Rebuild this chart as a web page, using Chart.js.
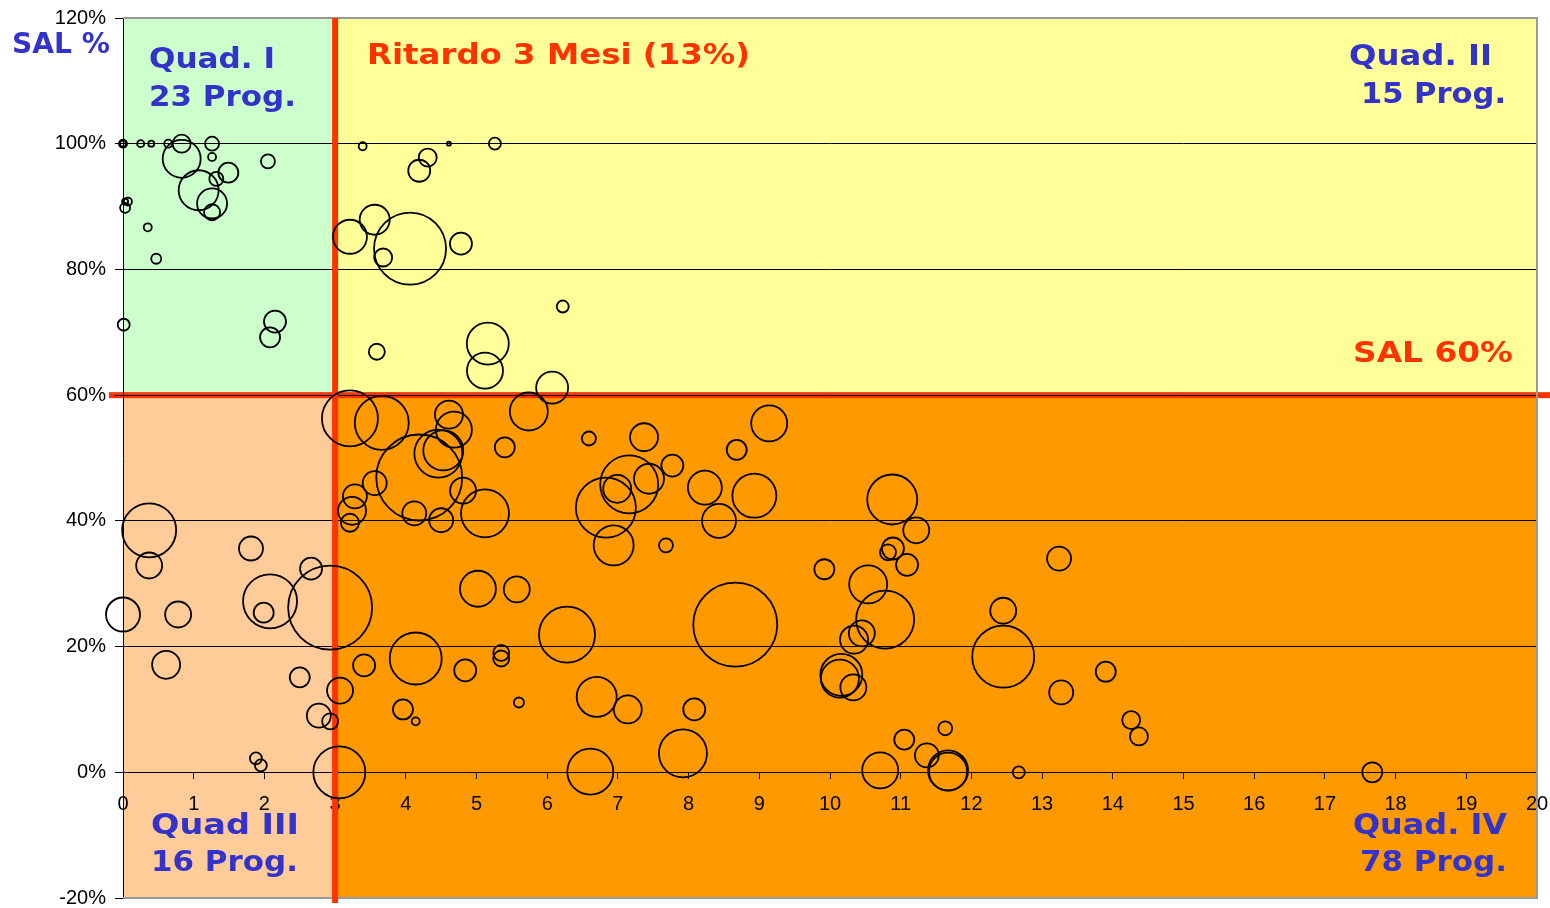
<!DOCTYPE html>
<html lang="it">
<head>
  <meta charset="UTF-8" />
  <title>SAL % - Ritardo</title>
  <script src="https://cdn.jsdelivr.net/npm/chart.js"></script>
  <style>
    html, body { margin: 0; padding: 0; background: #fff; }
    #wrap { width: 1550px; height: 908px; }
  </style>
</head>
<body>
  <div id="wrap"><canvas id="salChart" width="1550" height="908"></canvas></div>

  <script>
    // each bubble: [ritardo (mesi), SAL %, raggio]
    const quad1 = [
      [0.00, 100.0, 4], [0.00, 100.0, 3], [0.25, 100.0, 3.5], [0.40, 100.0, 3], [0.64, 100.0, 4],
      [0.83, 100.0, 9], [0.83, 97.6, 19], [1.26, 100.0, 7], [1.26, 97.9, 4], [1.49, 95.4, 10],
      [1.32, 94.4, 7], [1.07, 92.6, 20], [1.26, 90.5, 15], [1.26, 89.1, 8], [2.05, 97.2, 7],
      [0.03, 90.8, 3], [0.07, 90.8, 4], [0.03, 89.8, 5], [0.35, 86.7, 4], [0.47, 81.7, 5],
      [0.01, 71.2, 6], [2.15, 71.7, 11], [2.08, 69.2, 10]
    ];
    const quad2 = [
      [3.39, 99.6, 4], [4.61, 100.0, 2], [5.26, 100.0, 6], [4.31, 97.8, 9], [4.19, 95.7, 11],
      [3.21, 85.2, 17], [3.56, 87.9, 15], [4.06, 83.3, 36], [3.68, 81.9, 9], [4.78, 84.1, 11],
      [6.22, 74.1, 6], [3.59, 66.9, 8], [5.16, 68.2, 21], [5.12, 63.9, 18], [6.07, 61.2, 16]
    ];
    const quad3 = [
      [0.37, 38.5, 27], [0.37, 32.9, 13], [0.00, 25.1, 17], [0.78, 25.1, 13], [1.81, 35.6, 12],
      [2.08, 27.2, 27], [1.99, 25.4, 10], [2.66, 32.4, 11], [2.93, 26.2, 42], [0.61, 17.1, 14],
      [2.50, 15.1, 10], [2.77, 9.0, 12], [2.93, 8.1, 8], [1.88, 2.2, 6], [1.95, 1.1, 6]
    ];
    const quad4 = [
      [3.21, 56.3, 28], [3.66, 55.6, 27], [4.61, 56.9, 14], [4.68, 54.5, 18], [4.46, 50.7, 24],
      [4.53, 51.2, 20], [4.19, 46.9, 43], [5.40, 51.7, 10], [3.56, 46.0, 12], [3.28, 43.9, 12],
      [3.24, 41.6, 14], [3.21, 39.7, 9], [4.12, 41.2, 12], [4.50, 40.1, 12], [4.81, 44.8, 13],
      [5.12, 41.2, 24], [5.02, 29.2, 18], [5.57, 29.1, 13], [4.14, 18.1, 26], [3.41, 17.0, 11],
      [4.84, 16.2, 11], [5.35, 19.0, 8], [5.35, 18.1, 8], [5.60, 11.1, 5], [3.96, 10.0, 10],
      [4.14, 8.1, 4], [3.07, 13.0, 13], [3.06, 0.0, 26], [5.74, 57.4, 19], [6.59, 53.1, 7],
      [7.37, 53.3, 14], [9.14, 55.5, 18], [8.68, 51.3, 10], [7.77, 48.8, 11], [7.16, 45.8, 29],
      [6.99, 45.1, 14], [7.44, 46.7, 15], [8.23, 45.3, 17], [8.93, 44.0, 22], [6.83, 42.1, 30],
      [8.43, 40.0, 17], [6.94, 36.1, 20], [7.68, 36.1, 7], [6.28, 21.9, 28], [8.66, 23.5, 42],
      [6.70, 12.0, 20], [7.14, 10.0, 14], [8.08, 10.0, 11], [7.92, 3.0, 24], [6.61, 0.1, 23],
      [10.88, 43.4, 25], [11.22, 38.5, 13], [10.89, 35.6, 11], [10.82, 35.0, 8], [11.09, 33.0, 11],
      [9.92, 32.3, 10], [10.54, 29.9, 19], [10.78, 24.3, 29], [10.45, 22.1, 13], [10.34, 21.1, 14],
      [10.16, 15.5, 21], [10.14, 14.9, 19], [10.33, 13.5, 13], [13.24, 34.0, 12], [12.45, 25.7, 13],
      [12.45, 18.4, 31], [13.90, 16.0, 10], [13.27, 12.7, 12], [14.26, 8.3, 9], [14.37, 5.7, 9],
      [11.63, 7.0, 7], [11.05, 5.2, 10], [11.37, 2.7, 12], [11.67, 0.3, 20], [11.67, 0.1, 19],
      [10.71, 0.3, 18], [12.67, 0.0, 6], [17.67, 0.0, 10]
    ];

    const xTicks = [0, 1, 2, 3, 4, 5, 6, 7, 8, 9, 10, 11, 12, 13, 14, 15, 16, 17, 18, 19, 20];
    const yTicks = [-20, 0, 20, 40, 60, 80, 100, 120];
    const sogliaRitardo = 3;   // 3 mesi
    const sogliaSal = 60;      // SAL 60%

    const blu = '#3333CC';
    const rosso = '#FF3300';

    // text boxes: text, left, baseline, width
    const labels = [
      ['SAL %', 12, 53, 98, blu],
      ['Quad. I', 149, 68, 126, blu],
      ['23 Prog.', 149, 106, 147, blu],
      ['Ritardo 3 Mesi (13%)', 367, 64, 383, rosso],
      ['Quad. II', 1349, 65, 143, blu],
      ['15 Prog.', 1361, 103, 145, blu],
      ['SAL 60%', 1353, 362, 160, rosso],
      ['Quad III', 151, 834, 148, blu],
      ['16 Prog.', 151, 871, 147, blu],
      ['Quad. IV', 1353, 834, 154, blu],
      ['78 Prog.', 1360, 871, 147, blu]
    ];

    function toPoints(list) {
      return list.map(p => ({ x: p[0], y: p[1], r: p[2] }));
    }

    const quadrants = {
      id: 'quadrants',
      beforeDraw(chart) {
        const { ctx, chartArea: a, scales: { x, y } } = chart;
        const xs = x.getPixelForValue(sogliaRitardo);
        const ys = y.getPixelForValue(sogliaSal);
        ctx.save();
        ctx.fillStyle = '#CCFFCC';
        ctx.fillRect(a.left, a.top, xs - a.left, ys - a.top);
        ctx.fillStyle = '#FFFF99';
        ctx.fillRect(xs, a.top, a.right - xs, ys - a.top);
        ctx.fillStyle = '#FFCC99';
        ctx.fillRect(a.left, ys, xs - a.left, a.bottom - ys);
        ctx.fillStyle = '#FF9900';
        ctx.fillRect(xs, ys, a.right - xs, a.bottom - ys);
        // SAL 60% line
        ctx.fillStyle = rosso;
        ctx.fillRect(a.left - 14, ys - 3, chart.width - a.left + 14, 6);
        ctx.restore();
      },
      beforeDatasetsDraw(chart) {
        const { ctx, chartArea: a, scales: { x } } = chart;
        const xs = x.getPixelForValue(sogliaRitardo);
        ctx.save();
        // plot border
        ctx.strokeStyle = '#999';
        ctx.lineWidth = 2;
        ctx.beginPath();
        ctx.moveTo(a.left, a.top);
        ctx.lineTo(a.right, a.top);
        ctx.lineTo(a.right, a.bottom);
        ctx.lineTo(a.left, a.bottom);
        ctx.stroke();
        // 3 months line
        ctx.fillStyle = rosso;
        ctx.fillRect(xs - 3, a.top, 6, a.bottom - a.top + 5);
        ctx.restore();
      },
      afterDraw(chart) {
        const { ctx } = chart;
        ctx.save();
        ctx.font = 'bold 29px "DejaVu Sans"';
        ctx.textBaseline = 'alphabetic';
        ctx.textAlign = 'left';
        labels.forEach(([text, x, y, w, color]) => {
          const sx = w / ctx.measureText(text).width;
          ctx.save();
          ctx.translate(x, y);
          ctx.scale(sx, 1);
          ctx.fillStyle = color;
          ctx.fillText(text, 0, 0);
          ctx.restore();
        });
        ctx.restore();
      }
    };

    function noPadding(s) {
      s.paddingLeft = 0;
      s.paddingRight = 0;
      s.paddingTop = 0;
      s.paddingBottom = 0;
    }

    const ctx = document.getElementById('salChart').getContext('2d');
    new Chart(ctx, {
      type: 'bubble',
      data: {
        datasets: [quad1, quad2, quad3, quad4].map((q, i) => ({
          label: 'Quad ' + (i + 1),
          data: toPoints(q),
          backgroundColor: 'rgba(0,0,0,0)',
          borderColor: '#000',
          borderWidth: 1.8,
          clip: false
        }))
      },
      options: {
        responsive: false,
        animation: false,
        devicePixelRatio: 1,
        layout: { autoPadding: false, padding: { top: 18, right: 13, bottom: 10, left: 0 } },
        plugins: {
          legend: { display: false },
          tooltip: { enabled: false }
        },
        scales: {
          x: {
            type: 'linear',
            position: { y: 0 },
            min: 0,
            max: 20,
            afterBuildTicks: s => { s.ticks = xTicks.map(v => ({ value: v })); },
            afterFit: s => { s.height = 0; noPadding(s); },
            grid: { drawOnChartArea: false, drawTicks: true, tickLength: 6, tickColor: '#000' },
            border: { display: true, color: '#000', width: 1 },
            ticks: {
              autoSkip: false,
              maxRotation: 0,
              padding: 14,
              color: '#000',
              font: { family: '"Liberation Sans", Arial', size: 20 }
            }
          },
          y: {
            type: 'linear',
            position: 'left',
            min: -20,
            max: 120,
            afterBuildTicks: s => { s.ticks = yTicks.map(v => ({ value: v })); },
            afterFit: s => { s.width = 123; noPadding(s); },
            grid: {
              color: c => (c.tick && (c.tick.value === 120 || c.tick.value === -20)) ? '#999' : '#000',
              lineWidth: 1,
              tickLength: 8,
              tickColor: '#000'
            },
            border: { display: true, color: '#000', width: 1 },
            ticks: {
              padding: 9,
              color: '#000',
              font: { family: '"Liberation Sans", Arial', size: 20 },
              callback: v => v + '%'
            }
          }
        }
      },
      plugins: [quadrants]
    });
  </script>
</body>
</html>
